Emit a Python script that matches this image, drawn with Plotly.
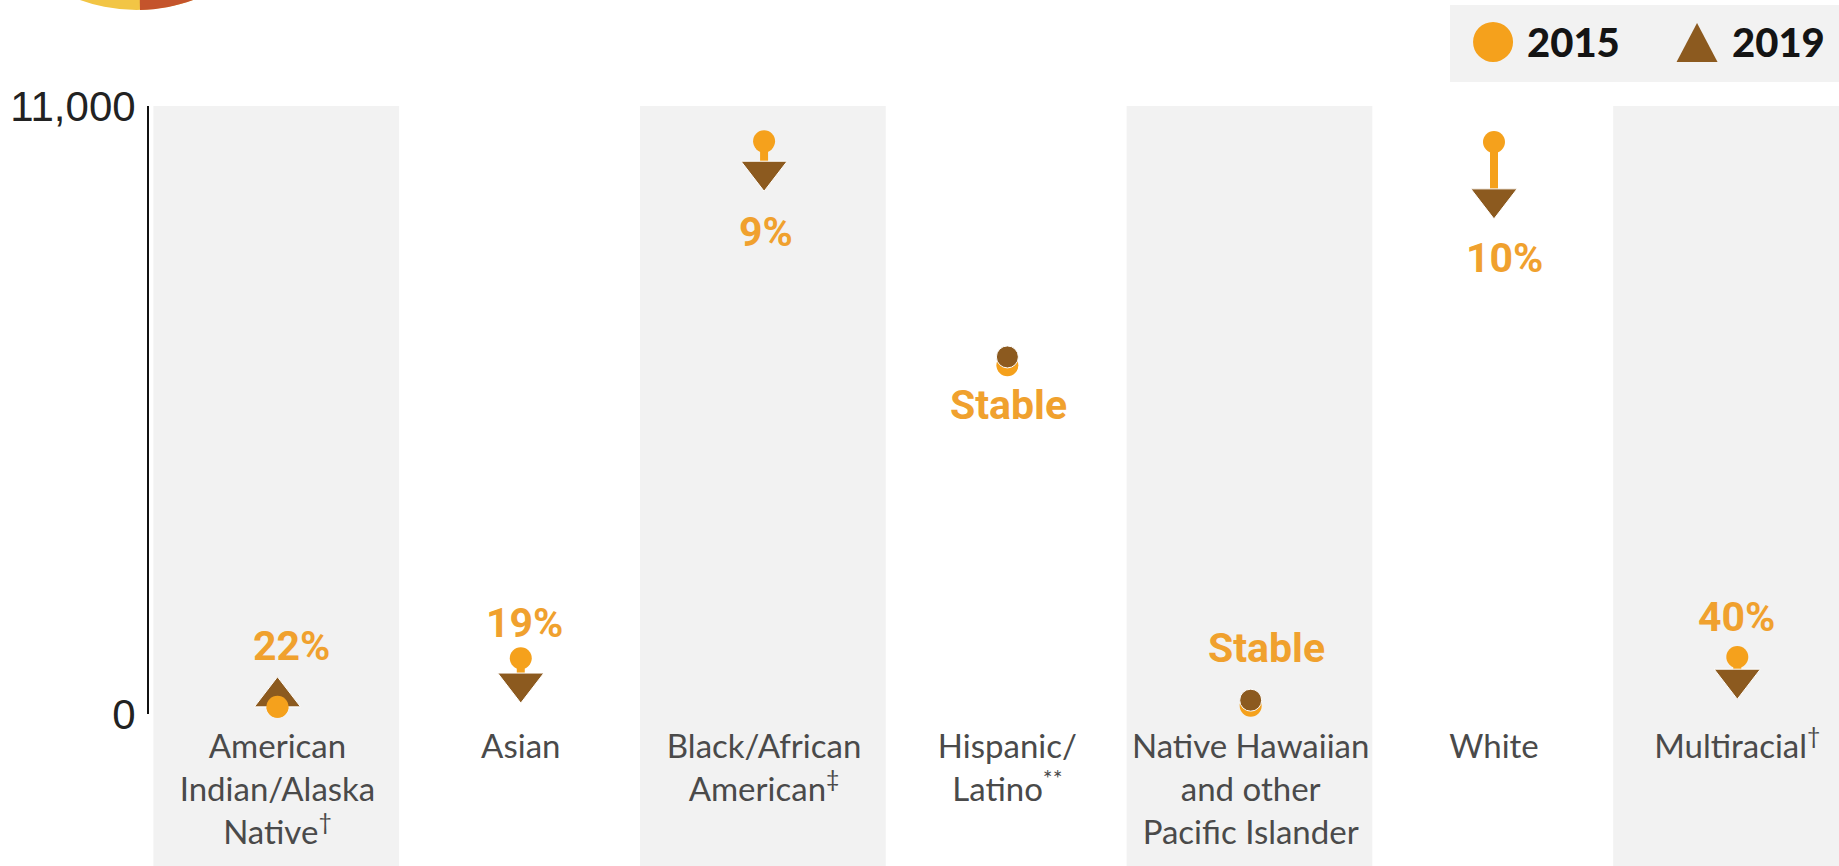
import math
import plotly.graph_objects as go

# ---------------- data ----------------
categories = [
    "American Indian/Alaska Native",
    "Asian",
    "Black/African American",
    "Hispanic/Latino",
    "Native Hawaiian and other Pacific Islander",
    "White",
    "Multiracial",
]
tick_labels = [
    "American<br>Indian/Alaska<br>Native<sup>†</sup>",
    "Asian",
    "Black/African<br>American<sup>‡</sup>",
    "Hispanic/<br>Latino<sup>**</sup>",
    "Native Hawaiian<br>and other<br>Pacific Islander",
    "White",
    "Multiracial<sup>†</sup>",
]
values_2015 = [130, 1010, 10360, 6310, 150, 10350, 1030]
values_2019 = [310, 560, 9820, 6460, 250, 9320, 630]
trend = ["up", "down", "down", "stable", "stable", "down", "down"]
change_labels = ["22%", "19%", "9%", "Stable", "Stable", "10%", "40%"]
y_tick_values = [0, 11000]
y_tick_text = ["0", "11,000"]

# ---------------- styles ----------------
ORANGE = "#F5A11C"
BROWN = "#8C5A1F"
LABEL_ORANGE = "#F0A12E"
BAND = "#F2F2F2"
label_dy = [51, 60, -61, -48, 52, -59, 62]     # px offset of change label from 2019 mark
label_dx = [14, 4, 2, 1, 16, 11, -1]

symbol_for = {"up": "triangle-up", "down": "triangle-down", "stable": "circle"}
size_for = {"up": 40, "down": 40, "stable": 22}

fig = go.Figure()

# connecting stems
stem_x, stem_y = [], []
for c, a, b in zip(categories, values_2015, values_2019):
    stem_x += [c, c, None]
    stem_y += [a, b, None]
fig.add_trace(go.Scatter(x=stem_x, y=stem_y, mode="lines",
                         line=dict(color=ORANGE, width=8),
                         showlegend=False, hoverinfo="skip", cliponaxis=False))

fig.add_trace(go.Scatter(x=categories, y=values_2015, mode="markers", name="2015",
                         marker=dict(color=ORANGE, size=22, symbol="circle", opacity=1),
                         showlegend=False, cliponaxis=False))
fig.add_trace(go.Scatter(x=categories, y=values_2019, mode="markers", name="2019",
                         marker=dict(color=BROWN, opacity=1,
                                     size=[size_for[t] for t in trend],
                                     symbol=[symbol_for[t] for t in trend]),
                         showlegend=False, cliponaxis=False))
# 2015 circle drawn in front where the value rose
fig.add_trace(go.Scatter(x=categories,
                         y=[v if t == "up" else None for v, t in zip(values_2015, trend)],
                         mode="markers", marker=dict(color=ORANGE, size=22, opacity=1),
                         showlegend=False, hoverinfo="skip", cliponaxis=False))

# change labels
for c, v, txt, dy, dx in zip(categories, values_2019, change_labels, label_dy, label_dx):
    fig.add_annotation(x=c, y=v, text=txt, showarrow=False, yshift=dy, xshift=dx,
                       xanchor="center", yanchor="middle",
                       font=dict(family="Roboto, Liberation Sans, sans-serif",
                                 size=41, color=LABEL_ORANGE, weight="bold"))

# alternating background bands
shapes = []
for i in range(0, len(categories), 2):
    shapes.append(dict(type="rect", xref="x", yref="paper", x0=i - 0.51, x1=i + 0.5,
                       y0=-0.26, y1=1, fillcolor=BAND, line=dict(width=0), layer="below"))

# legend box (custom)
shapes.append(dict(type="rect", xref="paper", yref="paper", x0=0.7698, x1=1.01,
                   y0=1.0395, y1=1.166, fillcolor=BAND, line=dict(width=0), layer="below"))
shapes.append(dict(type="circle", xref="paper", yref="paper", xsizemode="pixel",
                   ysizemode="pixel", xanchor=0.7953, yanchor=1.1053,
                   x0=-20, x1=20, y0=-20, y1=20, fillcolor=ORANGE, line=dict(width=0)))
shapes.append(dict(type="path", xref="paper", yref="paper", xsizemode="pixel",
                   ysizemode="pixel", xanchor=0.916, yanchor=1.1036,
                   path="M-20.5,-19 L20.5,-19 L0,20 Z", fillcolor=BROWN, line=dict(width=0)))

# partial pie peeking in at top-left (from the previous panel)
R = 165
shapes.append(dict(type="circle", xref="paper", yref="paper", xsizemode="pixel",
                   ysizemode="pixel", xanchor=-0.0074, yanchor=1.4293,
                   x0=-R, x1=R, y0=-R, y1=R, fillcolor="#F2C545", line=dict(width=0)))
t1, t2 = math.radians(-88.8), math.radians(-30)
k = 4 / 3 * math.tan((t2 - t1) / 4) * R
p0 = (R * math.cos(t1), R * math.sin(t1))
p3 = (R * math.cos(t2), R * math.sin(t2))
p1 = (p0[0] - k * math.sin(t1), p0[1] + k * math.cos(t1))
p2 = (p3[0] + k * math.sin(t2), p3[1] - k * math.cos(t2))
pie_path = (f"M0,0 L{p0[0]:.1f},{p0[1]:.1f} C{p1[0]:.1f},{p1[1]:.1f} "
            f"{p2[0]:.1f},{p2[1]:.1f} {p3[0]:.1f},{p3[1]:.1f} Z")
shapes.append(dict(type="path", xref="paper", yref="paper", xsizemode="pixel",
                   ysizemode="pixel", xanchor=-0.0074, yanchor=1.4293,
                   path=pie_path, fillcolor="#C4542C", line=dict(width=0)))

legend_font = dict(family="Lato, Roboto, sans-serif", size=40, color="#141414", weight=900)
fig.add_annotation(xref="paper", yref="paper", x=0.8142, y=1.1053, text="2015",
                   showarrow=False, xanchor="left", yanchor="middle", font=legend_font)
fig.add_annotation(xref="paper", yref="paper", x=0.9355, y=1.1053, text="2019",
                   showarrow=False, xanchor="left", yanchor="middle", font=legend_font)

fig.update_layout(
    width=1839, height=866,
    margin=dict(l=149, r=0, t=106, b=152),
    paper_bgcolor="white", plot_bgcolor="white",
    shapes=shapes,
    showlegend=False,
    xaxis=dict(type="category", range=[-0.528, 6.418], tickvals=categories,
               ticktext=tick_labels, showline=False, showgrid=False, zeroline=False,
               ticks="", ticklabelstandoff=10,
               tickfont=dict(family="Lato, Open Sans, sans-serif", size=33,
                             color="#4a4a4a", weight=400)),
    yaxis=dict(range=[0, 11000], tickvals=y_tick_values, ticktext=y_tick_text,
               showline=True, linecolor="#111111", linewidth=2, showgrid=False,
               zeroline=False, ticks="", ticklabelstandoff=3,
               tickfont=dict(family="Liberation Sans, Arial, sans-serif", size=42, color="#222222")),
)

fig.write_html("out.html")
